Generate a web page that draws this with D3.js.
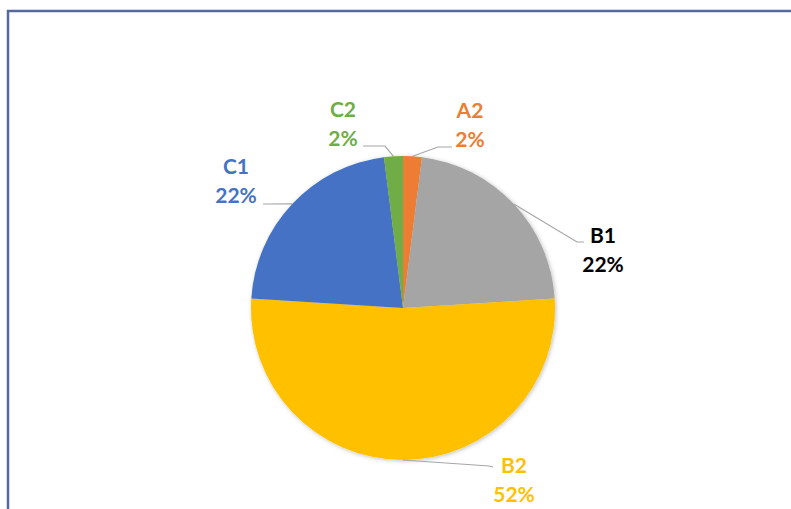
<!DOCTYPE html>
<html>
<head>
<meta charset="utf-8">
<script src="https://cdn.jsdelivr.net/npm/d3@7"></script>
<style>
  html, body { margin: 0; padding: 0; background: #fff; }
  svg { display: block; }
</style>
</head>
<body>
<svg id="chart"></svg>
<script>
"use strict";

// data
var categories = ["A2", "B1", "B2", "C1", "C2"];
var shares = [2, 22, 52, 22, 2];
var pctLabels = ["2%", "22%", "52%", "22%", "2%"];

// styling / layout
var sliceColors = ["#ed7d31", "#a5a5a5", "#ffc000", "#4472c4", "#70ad47"];
var textColors = ["#ed7d31", "#000000", "#ffc000", "#4472c4", "#70ad47"];
// label anchor (center x, baseline of first line) and leader elbow/end, relative to pie centre
var labelLayout = [
    { tx: 67, ty: -190, elbow: [35, -161], end: [49, -161] },
    { tx: 200, ty: -65, elbow: [174, -66], end: [181, -66] },
    { tx: 111, ty: 165, elbow: [86, 158], end: [90, 159] },
    { tx: -167, ty: -134, elbow: [-140, -104], end: [-140, -104] },
    { tx: -60, ty: -191, elbow: [-18, -162], end: [-40, -162] }
];

var W = 791, H = 509;
var cx = 403, cy = 308, r = 152;

var svg = d3.select("#chart").attr("width", W).attr("height", H);

// frame
svg.append("rect")
    .attr("x", 8).attr("y", 11)
    .attr("width", W + 20).attr("height", H + 20)
    .attr("fill", "#fff")
    .attr("stroke", "#55699e")
    .attr("stroke-width", 2.5);

var defs = svg.append("defs");
defs.append("filter").attr("id", "shadow")
    .attr("x", "-10%").attr("y", "-10%").attr("width", "120%").attr("height", "120%")
    .append("feDropShadow")
    .attr("dx", 1).attr("dy", 1).attr("stdDeviation", 2)
    .attr("flood-color", "#000").attr("flood-opacity", 0.25);

var rows = categories.map((c, i) => ({ cat: c, value: shares[i], pct: pctLabels[i], i: i }));

var pie = d3.pie().sort(null).value(d => d.value);
var arcs = pie(rows);

var arc = d3.arc().innerRadius(0).outerRadius(r);

var g = svg.append("g").attr("transform", `translate(${cx},${cy})`);

g.append("g").attr("filter", "url(#shadow)")
    .selectAll("path")
    .data(arcs)
    .enter()
    .append("path")
    .attr("d", arc)
    .attr("fill", d => sliceColors[d.data.i]);

// leader lines
g.selectAll("polyline")
    .data(arcs)
    .enter()
    .append("polyline")
    .attr("points", d => {
        var a = (d.startAngle + d.endAngle) / 2;
        var p0 = [r * Math.sin(a), -r * Math.cos(a)];
        var L = labelLayout[d.data.i];
        return [p0, L.elbow, L.end].map(p => p.join(",")).join(" ");
    })
    .attr("fill", "none")
    .attr("stroke", "#a6a6a6")
    .attr("stroke-width", 1.2);

// labels
var lab = g.selectAll("text.lab")
    .data(arcs)
    .enter()
    .append("text")
    .attr("class", "lab")
    .attr("text-anchor", "middle")
    .attr("font-family", "Lato, 'Open Sans', sans-serif")
    .attr("font-weight", "bold")
    .attr("font-size", 21)
    .attr("fill", d => textColors[d.data.i]);

lab.append("tspan")
    .attr("x", d => labelLayout[d.data.i].tx)
    .attr("y", d => labelLayout[d.data.i].ty)
    .text(d => d.data.cat);

lab.append("tspan")
    .attr("x", d => labelLayout[d.data.i].tx)
    .attr("y", d => labelLayout[d.data.i].ty + 29)
    .text(d => d.data.pct);
</script>
</body>
</html>
